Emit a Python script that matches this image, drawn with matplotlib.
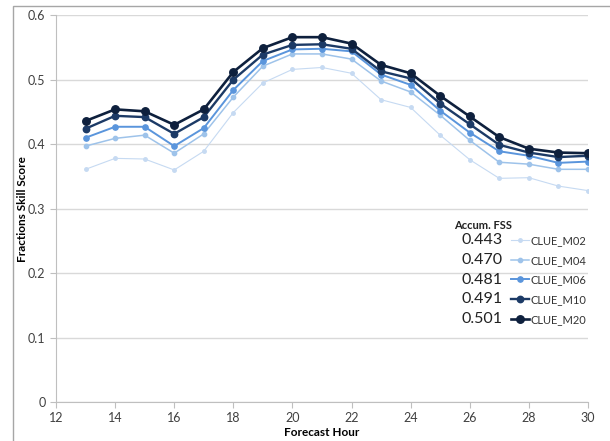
import matplotlib
matplotlib.use("Agg")
import matplotlib.pyplot as plt
from matplotlib.patches import Rectangle

plt.rcParams['font.family'] = ['Lato', 'DejaVu Sans']

# forecast hours
hours = list(range(13, 31))

m02 = [0.361, 0.378, 0.377, 0.360, 0.389, 0.449, 0.495, 0.516, 0.519, 0.510,
       0.469, 0.457, 0.414, 0.376, 0.347, 0.348, 0.335, 0.328]
m04 = [0.397, 0.409, 0.414, 0.386, 0.416, 0.473, 0.521, 0.540, 0.540, 0.532,
       0.498, 0.481, 0.445, 0.406, 0.372, 0.369, 0.361, 0.361]
m06 = [0.410, 0.427, 0.427, 0.397, 0.425, 0.484, 0.529, 0.547, 0.548, 0.544,
       0.508, 0.492, 0.452, 0.418, 0.389, 0.382, 0.371, 0.373]
m10 = [0.424, 0.444, 0.442, 0.416, 0.442, 0.500, 0.539, 0.554, 0.555, 0.548,
       0.513, 0.502, 0.463, 0.431, 0.399, 0.387, 0.380, 0.382]
m20 = [0.436, 0.454, 0.451, 0.430, 0.454, 0.512, 0.549, 0.566, 0.566, 0.556,
       0.523, 0.510, 0.475, 0.443, 0.411, 0.393, 0.387, 0.386]

names = ['CLUE_M02', 'CLUE_M04', 'CLUE_M06', 'CLUE_M10', 'CLUE_M20']
accum_fss = ['0.443', '0.470', '0.481', '0.491', '0.501']
colors = ['#c6daf2', '#9ec3ea', '#5a95dc', '#1c3a66', '#0e203d']
widths = [0.8, 1.1, 1.4, 1.7, 1.9]
msizes = [2.5, 3.1, 3.8, 4.6, 5.4]

fig = plt.figure(figsize=(6.1, 4.41), dpi=100)
ax = fig.add_axes([0.0918, 0.0884, 0.872, 0.877])

# outer frame of the chart area
fig.patches.append(Rectangle((13 / 610, -0.1), 1.2, 1 - 6 / 441 + 0.1,
                             transform=fig.transFigure, fill=False,
                             edgecolor='#a6a6a6', linewidth=1.0))

handles = []
for i, ys in enumerate([m02, m04, m06, m10, m20]):
    h, = ax.plot(hours, ys, color=colors[i], lw=widths[i], marker='o',
                 ms=msizes[i], label=names[i], zorder=3 + i)
    handles.append(h)

ax.set_xlim(12, 30)
ax.set_ylim(0, 0.6)
ax.set_xticks(range(12, 31, 2))
ax.set_yticks([0, 0.1, 0.2, 0.3, 0.4, 0.5, 0.6])
ax.set_yticklabels(['0', '0.1', '0.2', '0.3', '0.4', '0.5', '0.6'])
ax.grid(axis='y', color='#d9d9d9', lw=1.0)
ax.set_axisbelow(True)
for s in ['top', 'right']:
    ax.spines[s].set_visible(False)
for s in ['left', 'bottom']:
    ax.spines[s].set_color('#bfbfbf')
ax.tick_params(colors='#bfbfbf', labelcolor='#404040', labelsize=9, length=4)

ax.set_xlabel('Forecast Hour', fontsize=8.5, fontweight='bold', labelpad=2)
ax.set_ylabel('Fractions Skill Score', fontsize=8.5, fontweight='bold')
ax.yaxis.set_label_coords(-0.053, 0.5)

leg = ax.legend(handles=handles, loc='upper left', bbox_to_anchor=(0.855, 0.432),
                frameon=False, fontsize=8, handlelength=1.6, handletextpad=0.15,
                labelspacing=0.78, borderpad=0, borderaxespad=0)
for t in leg.get_texts():
    t.set_color('#333333')

ax.text(0.803, 0.456, 'Accum. FSS', transform=ax.transAxes, fontsize=8,
        fontweight='bold', ha='center', va='center', color='#222222')

# put the accumulated scores next to each legend row
fig.canvas.draw()
inv = ax.transAxes.inverted()
for t, lt in zip(accum_fss, leg.get_texts()):
    bb = lt.get_window_extent()
    yy = inv.transform((0, (bb.y0 + bb.y1) / 2))[1]
    ax.text(0.840, yy, t, transform=ax.transAxes, fontsize=11.5,
            ha='right', va='center', color='#222222')

fig.savefig('out.png', dpi=100)
